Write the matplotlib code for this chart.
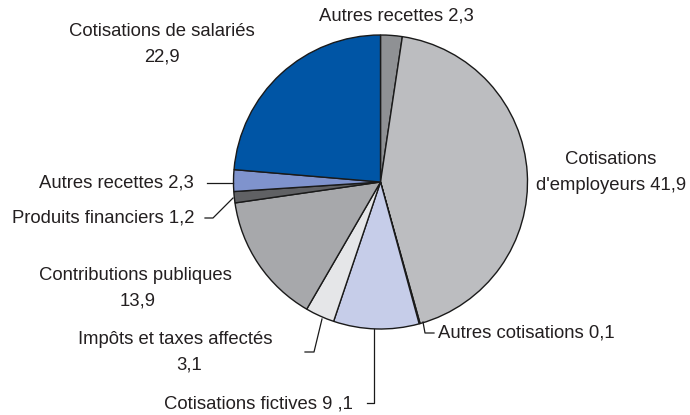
import matplotlib.pyplot as plt

# Share of each resource (clockwise from the top)
labels = ["Autres recettes 2,3", "Cotisations\nd'employeurs 41,9", "Autres cotisations 0,1",
          "Cotisations fictives 9 ,1", "Impôts et taxes affectés\n3,1", "Contributions publiques\n13,9",
          "Produits financiers 1,2", "Autres recettes 2,3", "Cotisations de salariés\n22,9"]
values = [2.3, 41.9, 0.1, 9.1, 3.1, 13.9, 1.2, 2.3, 22.9]
colors = ["#8f9194", "#bcbdc0", "#f2eca2", "#c6cde9", "#e5e6e8",
          "#a7a8ab", "#606164", "#7f93cd", "#0055a5"]

W, H = 690, 415
TXT = "#231f20"

fig = plt.figure(figsize=(W / 100, H / 100), dpi=100)
ax = fig.add_axes([0, 0, 1, 1])

# pie drawn in pixel coords (y flipped)
cx, cy, r = 380.5, H - 182, 147
ax.pie(values, colors=colors, startangle=90, counterclock=False, center=(cx, cy), radius=r,
       wedgeprops=dict(edgecolor='#1a1a1a', linewidth=1.0), frame=True)
ax.set_xlim(0, W)
ax.set_ylim(0, H)
ax.set_aspect('equal')
ax.axis('off')

# label positions in pixels: one (x, y from top, ha) per line
label_pos = [
    [(396, 16, 'center')],
    [(611, 159, 'center'), (611, 185, 'center')],
    [(438, 333, 'left')],
    [(353, 404, 'right')],
    [(175, 340, 'center'), (189, 365, 'center')],
    [(135, 276, 'center'), (138, 301, 'center')],
    [(194, 218, 'right')],
    [(194, 183, 'right')],
    [(162, 31, 'center'), (162, 57, 'center')],
]
for lab, pos in zip(labels, label_pos):
    for line, (x, y, ha) in zip(lab.split('\n'), pos):
        ax.text(x, H - y, line, ha=ha, va='center', fontsize=13.3, color=TXT,
                family='Liberation Sans')

# leader lines
leaders = [
    [(423, 322), (425, 333), (434, 333)],
    [(374, 329), (374, 403), (367, 403)],
    [(322, 319), (314, 352), (305, 352)],
    [(233, 198), (213, 218), (205, 218)],
    [(233, 183), (207, 183)],
]
for pts in leaders:
    xs = [p[0] for p in pts]
    ys = [H - p[1] for p in pts]
    ax.plot(xs, ys, color='#1a1a1a', linewidth=0.9)

plt.savefig('out.png', dpi=100)
